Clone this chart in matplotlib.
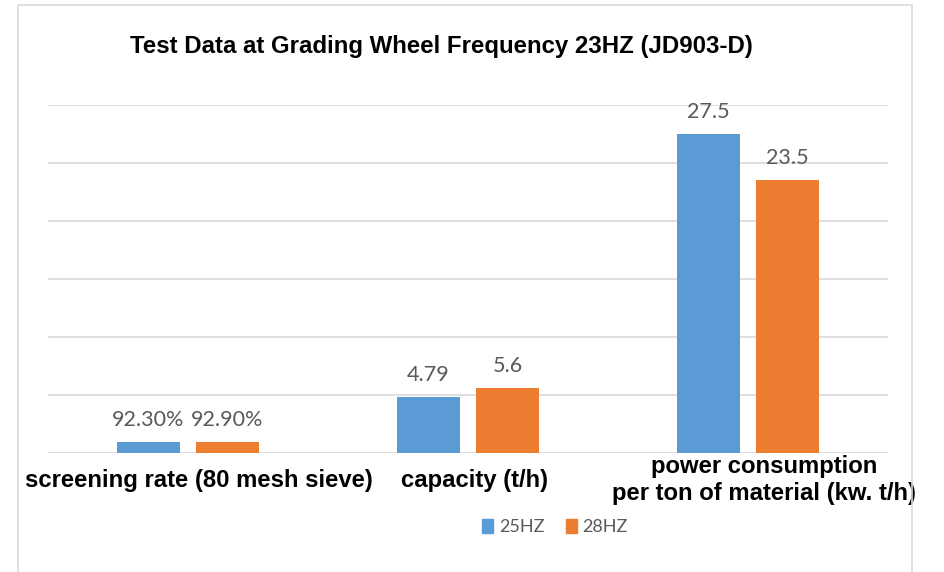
import numpy as np
import matplotlib
matplotlib.use("Agg")
import matplotlib.pyplot as plt
from matplotlib.patches import Rectangle, Patch

# =========================
# DATA
# =========================
categories = ["screening rate (80 mesh sieve)", "capacity (t/h)",
              "power consumption\nper ton of material (kw. t/h)"]
series_names = ["25HZ", "28HZ"]
vals_25 = [0.923, 4.79, 27.5]
vals_28 = [0.929, 5.6, 23.5]
labels_25 = ["92.30%", "4.79", "27.5"]
labels_28 = ["92.90%", "5.6", "23.5"]

blue = "#5B9BD5"
orange = "#ED7D31"
grid_c = "#D9D9D9"
label_c = "#595959"

bold_fam = ["Liberation Sans", "DejaVu Sans"]
soft = ["Lato", "DejaVu Sans"]

# =========================
# FIGURE
# =========================
fig = plt.figure(figsize=(9.44, 5.72), dpi=100)
ax = fig.add_axes([48 / 944, 119 / 572, 840 / 944, 348 / 572])

x = np.arange(len(categories))
w = 0.222
b1 = ax.bar(x - 0.141, vals_25, w, color=blue, zorder=3)
b2 = ax.bar(x + 0.141, vals_28, w, color=orange, zorder=3)

ax.bar_label(b1, labels=labels_25, padding=9, color=label_c,
             fontsize=15.5, family=soft)
ax.bar_label(b2, labels=labels_28, padding=9, color=label_c,
             fontsize=15.5, family=soft)

ax.set_xlim(-0.5, 2.5)
ax.set_ylim(0, 30)
ax.set_yticks(range(0, 31, 5))
ax.yaxis.grid(True, color=grid_c, lw=1.2, zorder=0)
ax.set_xticks([])
ax.tick_params(left=False, labelleft=False)
for s in ax.spines.values():
    s.set_visible(False)

# category labels (slightly off-centre like the original)
label_dx = [8, 5, 11.5]
for i, (lab, dx) in enumerate(zip(categories, label_dx)):
    ax.annotate(lab, xy=(i, 0), xycoords=("data", "axes fraction"),
                xytext=(dx, -19.5), textcoords="offset points",
                ha="center", va="center", fontsize=17.2, fontweight="bold",
                family=bold_fam, linespacing=1.2, annotation_clip=False)

fig.text(441 / 944, 1 - 47 / 572,
         "Test Data at Grading Wheel Frequency 23HZ (JD903-D)",
         ha="center", va="center", fontsize=17.3, fontweight="bold",
         family=bold_fam)

handles = [Patch(color=blue), Patch(color=orange)]
fig.legend(handles, series_names, loc="center",
           bbox_to_anchor=(555 / 944, 1 - 527 / 572), ncol=2,
           frameon=False, handlelength=0.6, handleheight=0.8,
           handletextpad=0.3, columnspacing=1.2,
           prop={"family": soft, "size": 13}, labelcolor=label_c)

# outer chart frame
fig.add_artist(Rectangle((18 / 944, -0.02), (912 - 18) / 944,
                         1 - 5 / 572 + 0.02, fill=False,
                         edgecolor=grid_c, lw=1.2,
                         transform=fig.transFigure))

fig.savefig("out.png", dpi=100)
